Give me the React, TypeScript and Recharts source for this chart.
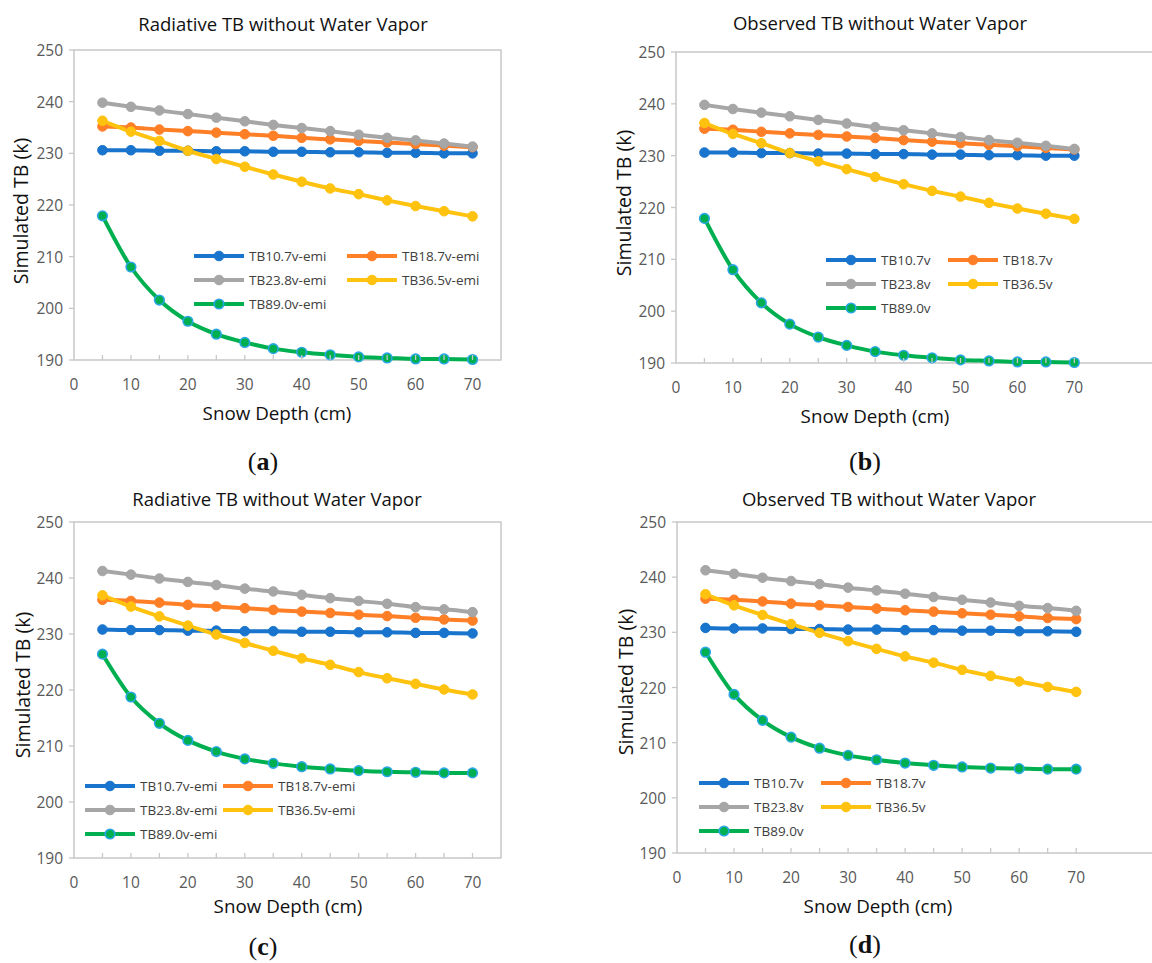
import React from 'react'
import { LineChart, Line, XAxis, YAxis, ReferenceArea } from 'recharts'

// snow depth (cm)
const depth = [5, 10, 15, 20, 25, 30, 35, 40, 45, 50, 55, 60, 65, 70]

// panels (a) and (b)
const tb107a = [230.6, 230.6, 230.5, 230.5, 230.4, 230.4, 230.3, 230.3, 230.2, 230.2, 230.1, 230.1, 230.0, 230.0]
const tb187a = [235.2, 235.0, 234.6, 234.3, 234.0, 233.7, 233.4, 233.0, 232.7, 232.4, 232.1, 231.8, 231.5, 231.2]
const tb238a = [239.8, 239.0, 238.3, 237.6, 236.9, 236.2, 235.5, 234.9, 234.3, 233.6, 233.0, 232.5, 231.9, 231.3]
const tb365a = [236.3, 234.2, 232.4, 230.5, 228.9, 227.4, 225.9, 224.5, 223.2, 222.1, 220.9, 219.8, 218.8, 217.8]
const tb890a = [217.9, 208.0, 201.6, 197.5, 195.0, 193.4, 192.2, 191.5, 191.0, 190.6, 190.4, 190.2, 190.2, 190.1]

// panels (c) and (d)
const tb107c = [230.8, 230.7, 230.7, 230.6, 230.6, 230.5, 230.5, 230.4, 230.4, 230.3, 230.3, 230.2, 230.2, 230.1]
const tb187c = [236.1, 235.9, 235.6, 235.2, 234.9, 234.6, 234.3, 234.0, 233.75, 233.45, 233.2, 232.9, 232.6, 232.4]
const tb238c = [241.25, 240.6, 239.9, 239.3, 238.75, 238.1, 237.6, 237.0, 236.4, 235.9, 235.4, 234.8, 234.4, 233.9]
const tb365c = [236.9, 234.9, 233.15, 231.5, 229.9, 228.4, 227.0, 225.65, 224.5, 223.2, 222.1, 221.1, 220.1, 219.2]
const tb890c = [226.4, 218.75, 214.05, 211.0, 209.0, 207.7, 206.9, 206.3, 205.9, 205.6, 205.4, 205.3, 205.2, 205.2]

const channels = ['TB10.7v', 'TB18.7v', 'TB23.8v', 'TB36.5v', 'TB89.0v']
const xTicks = [0, 5, 10, 15, 20, 25, 30, 35, 40, 45, 50, 55, 60, 65, 70]
const yTicks = [190, 200, 210, 220, 230, 240, 250]

const COLORS = ['#1874CD', '#FF7F27', '#A6A6A6', '#FFC20E', '#00B050']
const RING = '#2AA6E6'
const FRAME = '#C8C8C8'
const FONT = '"Open Sans", "Noto Sans", sans-serif'

function buildRows(series: number[][]) {
  return depth.map((d, i) => {
    const row: Record<string, number> = { depth: d }
    series.forEach((s, k) => {
      row['s' + k] = s[i]
    })
    return row
  })
}

const dataA = buildRows([tb107a, tb187a, tb238a, tb365a, tb890a])
const dataC = buildRows([tb107c, tb187c, tb238c, tb365c, tb890c])

const Y_AXIS_W = 40
const X_AXIS_H = 30
const PANEL_H = 480

function XTick(props: any) {
  const { x, y, payload } = props
  const v = payload.value
  return (
    <g>
      {v !== 0 && <line x1={x} x2={x} y1={y} y2={y - 5} stroke={FRAME} strokeWidth={1.3} />}
      {v % 10 === 0 && (
        <text x={x} y={y + 24} textAnchor="middle" dominantBaseline="central" fontSize={15.5} fill="#595959" fontFamily={FONT}>
          {v}
        </text>
      )}
    </g>
  )
}

function YTick(props: any) {
  const { x, y, payload } = props
  return (
    <g>
      <line x1={x - 5} x2={x} y1={y} y2={y} stroke={FRAME} strokeWidth={1.3} />
      <text x={x - 11} y={y} textAnchor="end" dominantBaseline="central" fontSize={15.5} fill="#595959" fontFamily={FONT}>
        {payload.value}
      </text>
    </g>
  )
}

interface PanelProps {
  left: number
  top: number
  data: Record<string, number>[]
  suffix: string
  title: string
  letter: string
  plot: { l: number; t: number; r: number; b: number }
  xMax: number
  titlePos: [number, number]
  yLabelPos: [number, number]
  xLabelPos: [number, number]
  letterPos: [number, number]
  legendPos: [number, number]
  legendColW: number
}

function LegendBox({ left, top, colW, suffix }: { left: number; top: number; colW: number; suffix: string }) {
  const order = [0, 1, 2, 3, 4]
  return (
    <div
      style={{
        position: 'absolute',
        left,
        top,
        display: 'grid',
        gridTemplateColumns: `${colW}px ${colW}px`,
        rowGap: 0,
      }}
    >
      {order.map((k) => (
        <div key={k} style={{ display: 'flex', alignItems: 'center', height: 24 }}>
          <svg width={52} height={14} style={{ display: 'block' }}>
            <line x1={1} x2={51} y1={7} y2={7} stroke={COLORS[k]} strokeWidth={4} />
            <circle
              cx={26}
              cy={7}
              r={4.8}
              fill={COLORS[k]}
              stroke={k === 4 ? RING : COLORS[k]}
              strokeWidth={k === 4 ? 1.6 : 1}
            />
          </svg>
          <span style={{ marginLeft: 4, fontSize: 13.5, color: '#404040', fontFamily: FONT, whiteSpace: 'nowrap' }}>
            {channels[k] + suffix}
          </span>
        </div>
      ))}
    </div>
  )
}

function Panel(p: PanelProps) {
  const chartW = p.plot.r + 12
  const margin = {
    top: p.plot.t,
    left: p.plot.l - Y_AXIS_W,
    right: chartW - p.plot.r,
    bottom: PANEL_H - p.plot.b - X_AXIS_H,
  }
  const center: React.CSSProperties = { position: 'absolute', transform: 'translate(-50%, -50%)', whiteSpace: 'nowrap' }
  return (
    <div style={{ position: 'absolute', left: p.left, top: p.top, width: chartW, height: PANEL_H }}>
      <LineChart width={chartW} height={PANEL_H} data={p.data} margin={margin}>
        <XAxis
          dataKey="depth"
          type="number"
          domain={[0, p.xMax]}
          ticks={xTicks}
          interval={0}
          axisLine={false}
          tickLine={false}
          tickSize={0}
          tickMargin={0}
          height={X_AXIS_H}
          tick={<XTick />}
        />
        <YAxis
          type="number"
          domain={[190, 250]}
          ticks={yTicks}
          interval={0}
          axisLine={false}
          tickLine={false}
          tickSize={0}
          tickMargin={0}
          width={Y_AXIS_W}
          tick={<YTick />}
        />
        <ReferenceArea x1={0} x2={p.xMax} y1={190} y2={250} fill="none" stroke={FRAME} strokeWidth={1.5} />
        {[0, 1, 2, 3, 4].map((k) => (
          <Line
            key={k}
            dataKey={'s' + k}
            type="monotone"
            stroke={COLORS[k]}
            strokeWidth={4}
            dot={{ r: 4.8, fill: COLORS[k], stroke: k === 4 ? RING : COLORS[k], strokeWidth: k === 4 ? 1.6 : 1 }}
            activeDot={false}
            isAnimationActive={false}
          />
        ))}
      </LineChart>
      <div style={{ ...center, left: p.titlePos[0], top: p.titlePos[1], fontFamily: FONT, fontSize: 18.5, color: '#111' }}>
        {p.title}
      </div>
      <div
        style={{
          ...center,
          left: p.yLabelPos[0],
          top: p.yLabelPos[1],
          transform: 'translate(-50%, -50%) rotate(-90deg)',
          fontFamily: FONT,
          fontSize: 19.5,
          color: '#111',
        }}
      >
        Simulated TB (k)
      </div>
      <div style={{ ...center, left: p.xLabelPos[0], top: p.xLabelPos[1], fontFamily: FONT, fontSize: 18.8, color: '#111' }}>
        Snow Depth (cm)
      </div>
      <div
        style={{
          ...center,
          left: p.letterPos[0],
          top: p.letterPos[1],
          fontFamily: '"Liberation Serif", "DejaVu Serif", serif',
          fontSize: 26,
          color: '#111',
        }}
      >
        (<b>{p.letter}</b>)
      </div>
      <LegendBox left={p.legendPos[0]} top={p.legendPos[1]} colW={p.legendColW} suffix={p.suffix} />
    </div>
  )
}

export default function App() {
  return (
    <div
      style={{
        position: 'absolute',
        left: 0,
        top: 0,
        width: 1152,
        height: 963,
        overflow: 'hidden',
        background: '#fff',
      }}
    >
      <Panel
        left={0}
        top={0}
        data={dataA}
        suffix="-emi"
        title="Radiative TB without Water Vapor"
        letter="a"
        plot={{ l: 74, t: 50, r: 501, b: 360 }}
        xMax={75}
        titlePos={[283, 23]}
        yLabelPos={[20, 211]}
        xLabelPos={[277, 413]}
        letterPos={[263, 462]}
        legendPos={[193, 244]}
        legendColW={153}
      />
      <Panel
        left={576}
        top={0}
        data={dataA}
        suffix=""
        title="Observed TB without Water Vapor"
        letter="b"
        plot={{ l: 100, t: 52, r: 578, b: 363 }}
        xMax={84}
        titlePos={[304, 22]}
        yLabelPos={[47, 203]}
        xLabelPos={[299, 416]}
        letterPos={[289, 462]}
        legendPos={[249, 248]}
        legendColW={122}
      />
      <Panel
        left={0}
        top={480}
        data={dataC}
        suffix="-emi"
        title="Radiative TB without Water Vapor"
        letter="c"
        plot={{ l: 74, t: 42, r: 501, b: 378 }}
        xMax={75}
        titlePos={[277, 18]}
        yLabelPos={[22, 205]}
        xLabelPos={[288, 426]}
        letterPos={[263, 467]}
        legendPos={[84, 294]}
        legendColW={138}
      />
      <Panel
        left={576}
        top={480}
        data={dataC}
        suffix=""
        title="Observed TB without Water Vapor"
        letter="d"
        plot={{ l: 101, t: 42, r: 580, b: 373 }}
        xMax={84}
        titlePos={[313, 18]}
        yLabelPos={[49, 202]}
        xLabelPos={[302, 426]}
        letterPos={[289, 465]}
        legendPos={[122, 291]}
        legendColW={122}
      />
    </div>
  )
}
